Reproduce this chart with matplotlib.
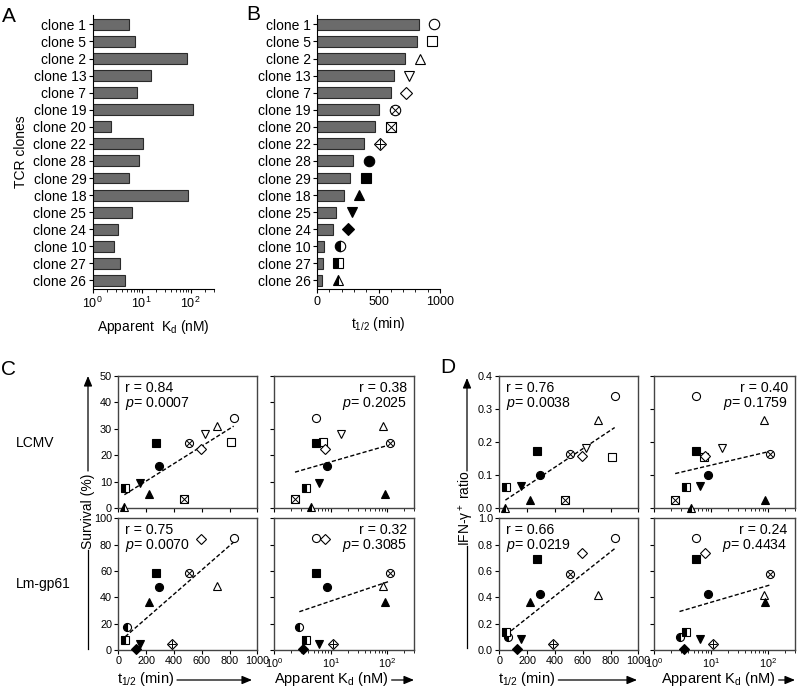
import numpy as np
import matplotlib.pyplot as plt
from matplotlib.ticker import LogLocator, NullFormatter, MultipleLocator
from matplotlib.lines import Line2D
from matplotlib.patches import FancyArrowPatch

plt.rcParams['font.family'] = ['Liberation Sans', 'DejaVu Sans']
plt.rcParams['mathtext.fontset'] = 'custom'
plt.rcParams['mathtext.rm'] = 'Liberation Sans'
plt.rcParams['mathtext.it'] = 'Liberation Sans:italic'
plt.rcParams['mathtext.bf'] = 'Liberation Sans:bold'
plt.rcParams['mathtext.default'] = 'regular'

nan = np.nan

# Data
clones = ['clone 1', 'clone 5', 'clone 2', 'clone 13', 'clone 7', 'clone 19',
          'clone 20', 'clone 22', 'clone 28', 'clone 29', 'clone 18', 'clone 25',
          'clone 24', 'clone 10', 'clone 27', 'clone 26']
kd = np.array([5.5, 7.4, 85, 15.3, 7.9, 110, 2.35, 10.8, 8.7, 5.5, 90, 6.3,
               3.3, 2.8, 3.6, 4.5])
t_half = np.array([830, 809, 713, 625, 598, 508, 475, 385, 295, 270, 219, 156,
                   129, 60, 49, 44])

lcmv_surv = np.array([33.9, 24.9, 31.2, 27.9, 22.2, 24.5, 3.5, nan, 16.0, 24.7,
                      5.3, 9.4, nan, nan, 7.8, 0.4])
lm_surv = np.array([85.3, nan, 48.4, nan, 84.5, 58.2, nan, 4.6, 48.1, 58.2,
                    36.2, 4.6, 0.5, 17.7, 7.6, nan])
lcmv_ifn = np.array([0.339, 0.154, 0.267, 0.181, 0.159, 0.163, 0.024, nan, 0.100,
                     0.173, 0.025, 0.068, nan, nan, 0.064, 0.002])
lm_ifn = np.array([0.853, nan, 0.415, nan, 0.734, 0.577, nan, 0.046, 0.425,
                   0.689, 0.362, 0.081, 0.005, 0.101, 0.137, nan])

stats_c = [('0.84', '0.0007'), ('0.38', '0.2025'), ('0.75', '0.0070'), ('0.32', '0.3085')]
stats_d = [('0.76', '0.0038'), ('0.40', '0.1759'), ('0.66', '0.0219'), ('0.24', '0.4434')]

# marker style per clone
shapes = ['o', 's', '^', 'v', 'D', 'o', 's', 'D', 'o', 's', '^', 'v', 'D', 'o', 's', '^']
fills = ['open'] * 5 + ['cross'] * 3 + ['full'] * 5 + ['half'] * 3
crosses = {5: 'x', 6: 'x', 7: '+'}

W, H = 800, 687
fig = plt.figure(figsize=(W / 100, H / 100), dpi=100)


def rect(l, t, r, b):
    return [l / W, 1 - b / H, (r - l) / W, (b - t) / H]


def put_marker(ax, x, y, i, ms):
    m = shapes[i]
    s = ms * 0.85 if m == 'D' else ms
    kw = dict(marker=m, ms=s, mec='k', mew=0.8, ls='none', clip_on=False, zorder=3)
    if fills[i] in ('open', 'cross'):
        ax.plot([x], [y], mfc='white', **kw)
        if fills[i] == 'cross':
            cs = {'o': 0.7, 's': 0.95, 'D': 1.0}[m] * ms
            ax.plot([x], [y], marker=crosses[i], ms=cs, mec='k', mew=0.7,
                    ls='none', clip_on=False, zorder=4)
    elif fills[i] == 'full':
        ax.plot([x], [y], mfc='k', **kw)
    else:
        ax.plot([x], [y], fillstyle='left', mfc='k', mfcalt='white', **kw)


# ---------- panels A and B ----------
pos = np.arange(len(clones))
axA = fig.add_axes(rect(92.5, 15, 214, 289))
axB = fig.add_axes(rect(317, 15, 440, 289))
for ax in (axA, axB):
    for s in ('top', 'right'):
        ax.spines[s].set_visible(False)
    ax.set_yticks(pos)
    ax.set_yticklabels(clones, fontsize=10)
    ax.set_ylim(15.5, -0.55)
    ax.tick_params(length=3, width=0.8, pad=1.5)
    ax.tick_params(axis='x', labelsize=9, pad=2)
    ax.tick_params(which='minor', length=2, width=0.6)

axA.set_xscale('log')
axA.set_xlim(1, 300)
axA.barh(pos, kd, height=0.64, color='#6b6b6b', edgecolor='#2a2a2a', lw=0.8)
axA.xaxis.set_major_locator(LogLocator(base=10, numticks=5))
axA.xaxis.set_minor_locator(LogLocator(base=10, subs=np.arange(2, 10), numticks=20))
axA.xaxis.set_minor_formatter(NullFormatter())
axA.set_xlabel('Apparent  K$_d$ (nM)', fontsize=10, labelpad=5)
axA.set_ylabel('TCR clones', fontsize=10, labelpad=4)

axB.set_xlim(0, 1000)
axB.barh(pos, t_half, height=0.64, color='#6b6b6b', edgecolor='#2a2a2a', lw=0.8)
axB.xaxis.set_major_locator(MultipleLocator(500))
axB.xaxis.set_minor_locator(MultipleLocator(100))
axB.set_xlabel('t$_{1/2}$ (min)', fontsize=10, labelpad=5)
for i in range(len(clones)):
    put_marker(axB, t_half[i] + 125, pos[i], i, 7.5)

# ---------- panels C and D ----------
col_l = {'CL': (118.3, 257.3), 'CR': (274, 414.3), 'DL': (499.3, 638.3), 'DR': (654, 795.3)}
row_t = {'top': (375.7, 508.3), 'bot': (518.3, 650)}


def scatter_panel(key, row, yvals, ylim, ystep, stat, logx):
    l, r = col_l[key]
    t, b = row_t[row]
    ax = fig.add_axes(rect(l, t, r, b))
    for s in ax.spines.values():
        s.set_color('#444444')
        s.set_linewidth(1.0)
    ax.tick_params(length=3, width=0.8, pad=1.5, labelsize=7.8, colors='k')
    ax.tick_params(which='minor', length=1.8, width=0.6)
    if logx:
        ax.set_xscale('log')
        ax.set_xlim(1, 300)
        ax.xaxis.set_major_locator(LogLocator(base=10, numticks=5))
        ax.xaxis.set_minor_locator(LogLocator(base=10, subs=np.arange(2, 10), numticks=20))
        ax.xaxis.set_minor_formatter(NullFormatter())
        xv = kd
    else:
        ax.set_xlim(0, 1000)
        ax.xaxis.set_major_locator(MultipleLocator(200))
        xv = t_half
    ax.set_ylim(*ylim)
    ax.yaxis.set_major_locator(MultipleLocator(ystep))
    if ystep < 1:
        ax.yaxis.set_major_formatter(plt.FormatStrFormatter('%.1f'))
    if row == 'top':
        ax.tick_params(axis='x', labelbottom=False)
    if logx:
        ax.tick_params(axis='y', labelleft=False)

    m = ~np.isnan(yvals)
    xs = np.log10(xv[m]) if logx else xv[m]
    k, c = np.polyfit(xs, yvals[m], 1)
    xx = np.array([xs.min(), xs.max()])
    yy = k * xx + c
    if logx:
        xx = 10 ** xx
    ax.plot(xx, yy, ls=(0, (3, 1.6)), color='k', lw=1.0, zorder=2)
    for i in np.where(m)[0]:
        put_marker(ax, xv[i], yvals[i], i, 5.8)

    rv, pv = stat
    if logx:
        tx, ha = 0.946, 'right'
    else:
        tx, ha = 0.048, 'left'
    ax.text(tx, 0.878, 'r = ' + rv, transform=ax.transAxes, ha=ha, va='baseline', fontsize=10.2)
    ax.text(tx, 0.765, r'$\it{p}$= ' + pv, transform=ax.transAxes, ha=ha, va='baseline', fontsize=10.2)
    return ax


scatter_panel('CL', 'top', lcmv_surv, (0, 50), 10, stats_c[0], False)
scatter_panel('CR', 'top', lcmv_surv, (0, 50), 10, stats_c[1], True)
scatter_panel('CL', 'bot', lm_surv, (0, 100), 20, stats_c[2], False)
scatter_panel('CR', 'bot', lm_surv, (0, 100), 20, stats_c[3], True)
scatter_panel('DL', 'top', lcmv_ifn, (0, 0.4), 0.1, stats_d[0], False)
scatter_panel('DR', 'top', lcmv_ifn, (0, 0.4), 0.1, stats_d[1], True)
scatter_panel('DL', 'bot', lm_ifn, (0, 1.0), 0.2, stats_d[2], False)
scatter_panel('DR', 'bot', lm_ifn, (0, 1.0), 0.2, stats_d[3], True)


def fx(x):
    return x / W


def fy(y):
    return 1 - y / H


arrow_kw = dict(arrowstyle='-|>,head_length=0.6,head_width=0.25', color='k', lw=0.9,
                mutation_scale=10, shrinkA=0, shrinkB=0)

# panel letters and row labels
for lab, x, y in [('A', 1.5, 21.5), ('B', 246, 20.5), ('C', 1.5, 375), ('D', 440, 373)]:
    fig.text(fx(x), fy(y), lab, fontsize=15, ha='left', va='baseline')
fig.text(fx(16), fy(443), 'LCMV', fontsize=10, ha='left', va='center')
fig.text(fx(16), fy(584), 'Lm-gp61', fontsize=10, ha='left', va='center')

# vertical labels with arrows
for lab, x, y_c, a0, a1, l0, l1 in [('Survival (%)', 88, 511, 471, 376, 550, 649),
                                     ('IFN-γ$^+$ ratio', 467, 508, 471, 378, 546, 648)]:
    fig.text(fx(x), fy(y_c), lab, rotation=90, fontsize=10, ha='center', va='center')
    fig.add_artist(Line2D([fx(x), fx(x)], [fy(l0), fy(l1)], color='k', lw=0.9))
    fig.add_artist(FancyArrowPatch((fx(x), fy(a0)), (fx(x), fy(a1)),
                                   transform=fig.transFigure, **arrow_kw))

# horizontal labels with arrows
fig.canvas.draw()
renderer = fig.canvas.get_renderer()
for lab, x0, x1 in [('t$_{1/2}$ (min)', 116.7, 252), ('Apparent K$_d$ (nM)', 274, 414),
                    ('t$_{1/2}$ (min)', 498, 637), ('Apparent K$_d$ (nM)', 661, 795)]:
    t = fig.text(fx(x0), fy(679), lab, fontsize=10.5, ha='left', va='center')
    bb = t.get_window_extent(renderer=renderer)
    fig.add_artist(FancyArrowPatch(((bb.x1 + 3) / W, fy(680)), (fx(x1), fy(680)),
                                   transform=fig.transFigure, **arrow_kw))

plt.savefig('out.png', dpi=100)
